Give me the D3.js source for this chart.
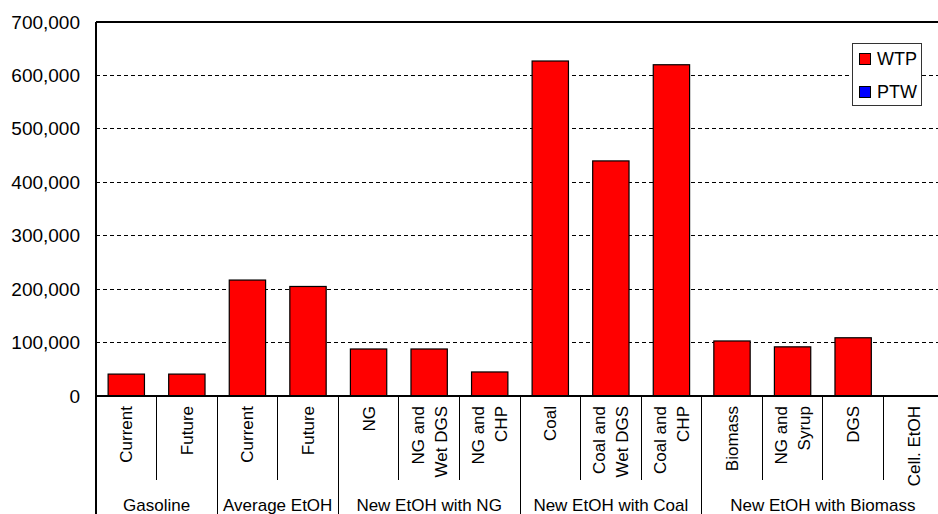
<!DOCTYPE html>
<html>
<head>
<meta charset="utf-8">
<script src="https://cdn.jsdelivr.net/npm/d3@7"></script>
<style>
  html, body { margin: 0; padding: 0; background: #fff; overflow: hidden; }
  svg { display: block; font-family: "Liberation Sans", Arial, Helvetica, sans-serif; }
</style>
</head>
<body>
<svg id="chart" width="938" height="514"></svg>
<script>
// ---- data ----
const groups = ["Gasoline", "Average EtOH", "New EtOH with NG", "New EtOH with Coal", "New EtOH with Biomass"];
const categoryGroup = [0, 0, 1, 1, 2, 2, 2, 3, 3, 3, 4, 4, 4, 4];
const categoryLabels = [
  ["Current"], ["Future"],
  ["Current"], ["Future"],
  ["NG"], ["NG and", "Wet DGS"], ["NG and", "CHP"],
  ["Coal"], ["Coal and", "Wet DGS"], ["Coal and", "CHP"],
  ["Biomass"], ["NG and", "Syrup"], ["DGS"], ["Cell. EtOH"]
];
const wtp = [41000, 41000, 217000, 205000, 88000, 88000, 45000, 627000, 440000, 620000, 103000, 92000, 109000, 0];
const ptw = [0, 0, 0, 0, 0, 0, 0, 0, 0, 0, 0, 0, 0, 0];
const yTicks = [0, 100000, 200000, 300000, 400000, 500000, 600000, 700000];
const seriesNames = ["WTP", "PTW"];
const seriesColors = ["#ff0000", "#0000ff"];

// ---- layout ----
const svg = d3.select("#chart");
const mLeft = 96, mTop = 22, mBottom = 396, mRight = 944;
const ids = categoryLabels.map((d, i) => "c" + i);

const x = d3.scaleBand().domain(ids).range([mLeft, mRight]).paddingInner(0.4).paddingOuter(0.2);
const y = d3.scaleLinear().domain([0, 700000]).range([mBottom, mTop]);

// gridlines
svg.append("g").selectAll("line").data(yTicks.filter(t => t > 0 && t < 700000)).join("line")
  .attr("x1", mLeft).attr("x2", 938)
  .attr("y1", d => y(d)).attr("y2", d => y(d))
  .attr("stroke", "#000").attr("stroke-width", 1).attr("stroke-dasharray", "4,3")
  .attr("shape-rendering", "crispEdges");

// y axis labels
const yAxis = d3.axisLeft(y).tickValues(yTicks).tickSize(0).tickPadding(16)
  .tickFormat(d3.format(","));
const yg = svg.append("g").attr("transform", `translate(${mLeft},0)`).call(yAxis);
yg.select(".domain").remove();
yg.selectAll("text").attr("font-size", 19).attr("fill", "#000")
  .attr("font-family", "'Liberation Sans', Arial, sans-serif");

// stacked bars
const rows = ids.map((id, i) => ({ id, WTP: wtp[i], PTW: ptw[i] }));
const stack = d3.stack().keys(seriesNames)(rows);
svg.append("g").selectAll("g").data(stack).join("g")
  .attr("fill", (d, i) => seriesColors[i])
  .selectAll("rect").data(d => d.filter(p => p[1] - p[0] > 0)).join("rect")
  .attr("x", d => x(d.data.id))
  .attr("width", x.bandwidth())
  .attr("y", d => y(d[1]))
  .attr("height", d => y(d[0]) - y(d[1]))
  .attr("stroke", "#000").attr("stroke-width", 1.2);

// frame: left, top, bottom axis line
const frame = svg.append("g").attr("stroke", "#000").attr("stroke-width", 1.5).attr("shape-rendering", "crispEdges");
frame.append("line").attr("x1", mLeft).attr("x2", mLeft).attr("y1", mTop).attr("y2", 514);
frame.append("line").attr("x1", mLeft).attr("x2", 938).attr("y1", mTop).attr("y2", mTop);
frame.append("line").attr("x1", mLeft).attr("x2", 938).attr("y1", mBottom).attr("y2", mBottom);

// category separators (below axis)
const step = x.step();
const sep = svg.append("g").attr("stroke", "#000").attr("stroke-width", 1).attr("shape-rendering", "crispEdges");
ids.forEach((id, i) => {
  if (i === 0) return;
  const bx = x(id) - x.paddingInner() * step / 2;
  const isGroup = categoryGroup[i] !== categoryGroup[i - 1];
  sep.append("line").attr("x1", bx).attr("x2", bx).attr("y1", mBottom).attr("y2", isGroup ? 514 : 480);
});

// category labels (rotated)
const lineGap = 23;
ids.forEach((id, i) => {
  const cx = x(id) + x.bandwidth() / 2;
  const lines = categoryLabels[i];
  lines.forEach((t, j) => {
    const off = (j - (lines.length - 1) / 2) * lineGap + 6;
    svg.append("text")
      .attr("transform", `translate(${cx + off},406) rotate(-90)`)
      .attr("text-anchor", "end")
      .attr("font-size", 17)
      .attr("fill", "#000")
      .text(t);
  });
});

// group labels
groups.forEach((g, gi) => {
  const members = ids.filter((id, i) => categoryGroup[i] === gi);
  const x0 = x(members[0]) - x.paddingInner() * step / 2;
  const x1 = x(members[members.length - 1]) + x.bandwidth() + x.paddingInner() * step / 2;
  svg.append("text")
    .attr("x", (x0 + x1) / 2).attr("y", 511)
    .attr("text-anchor", "middle").attr("font-size", 17).attr("fill", "#000")
    .text(g);
});

// legend
const lg = svg.append("g");
lg.append("rect").attr("x", 852.5).attr("y", 43.5).attr("width", 69).attr("height", 62)
  .attr("fill", "#fff").attr("stroke", "#333").attr("stroke-width", 1);
seriesNames.forEach((s, i) => {
  const cy = 59 + i * 33;
  lg.append("rect").attr("x", 859.5).attr("y", cy - 5.5).attr("width", 11).attr("height", 11)
    .attr("fill", seriesColors[i]).attr("stroke", "#000").attr("stroke-width", 1);
  lg.append("text").attr("x", 877).attr("y", cy + 6).attr("font-size", 18).attr("fill", "#000").text(s);
});
</script>
</body>
</html>
